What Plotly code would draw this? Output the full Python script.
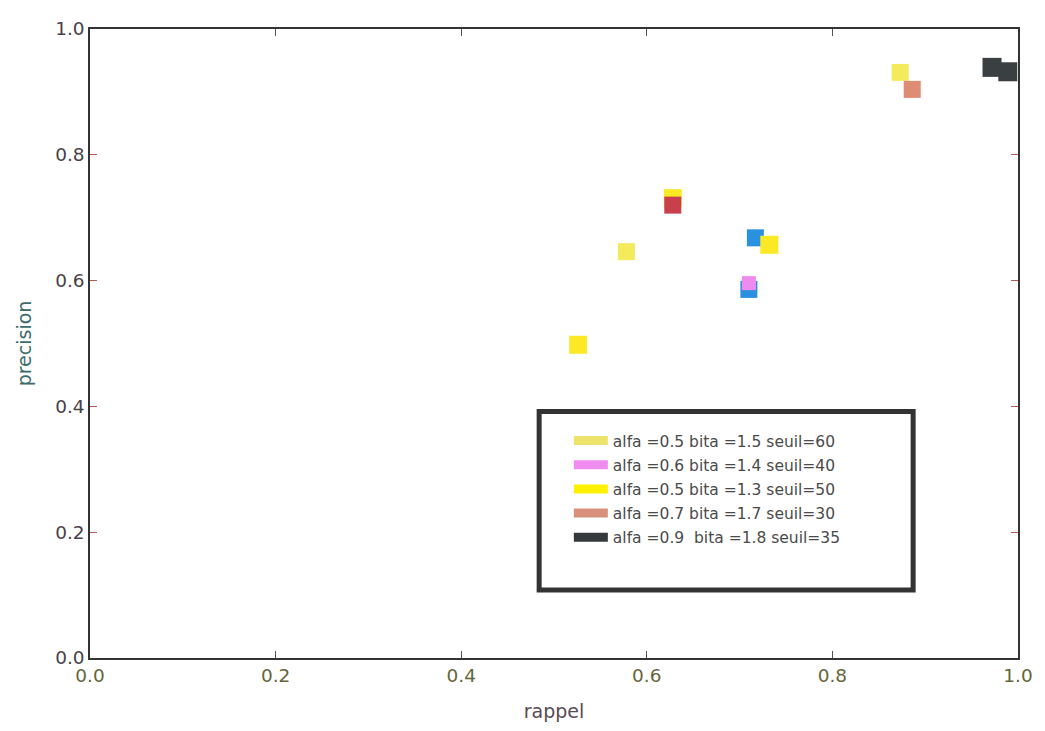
import plotly.graph_objects as go

# ---- data ----
legend_labels = [
    "alfa =0.5 bita =1.5 seuil=60",
    "alfa =0.6 bita =1.4 seuil=40",
    "alfa =0.5 bita =1.3 seuil=50",
    "alfa =0.7 bita =1.7 seuil=30",
    "alfa =0.9  bita =1.8 seuil=35",
]
legend_colors = ["#eee36a", "#f08cf0", "#fff000", "#d9907a", "#35393b"]

# points per series (rappel, precision)
s1_rappel = [0.578, 0.873]
s1_precision = [0.646, 0.931]
s2_rappel = [0.710]
s2_precision = [0.596]
s3_rappel = [0.526, 0.628, 0.732]
s3_precision = [0.498, 0.731, 0.657]
s4_rappel = [0.886]
s4_precision = [0.904]
s5_rappel = [0.972, 0.989]
s5_precision = [0.939, 0.932]

# extra marks visible in the print, not in legend
blue_rappel = [0.717, 0.710]
blue_precision = [0.668, 0.586]
red_rappel = [0.628]
red_precision = [0.720]

x_ticks = [0.0, 0.2, 0.4, 0.6, 0.8, 1.0]
y_ticks = [0.0, 0.2, 0.4, 0.6, 0.8, 1.0]

marker_colors = {
    "s1": "#f3ea5c", "s2": "#ef8bef", "s3": "#fbe925", "s4": "#de8c74",
    "s5": "#3a3f42", "blue": "#2a90e0", "red": "#c9404c",
}

fig = go.Figure()

def pts(x, y, color, size=17):
    fig.add_trace(go.Scatter(
        x=x, y=y, mode="markers", showlegend=False, hoverinfo="skip",
        cliponaxis=False,
        marker=dict(symbol="square", size=size, color=color, line=dict(width=0)),
    ))

# draw order chosen so overlaps look as in the print
pts(blue_rappel, blue_precision, marker_colors["blue"])
pts(s1_rappel, s1_precision, marker_colors["s1"])
pts(s3_rappel, s3_precision, marker_colors["s3"], size=18)
pts(red_rappel, red_precision, marker_colors["red"])
pts(s2_rappel, s2_precision, marker_colors["s2"], size=14)
pts(s4_rappel, s4_precision, marker_colors["s4"])
pts(s5_rappel, s5_precision, marker_colors["s5"], size=19)

# legend entries (patches)
for i, (lab, col) in enumerate(zip(legend_labels, legend_colors)):
    fig.add_trace(go.Scatter(
        x=[None], y=[None], mode="lines", name=lab, legendgroup=f"g{i}",
        line=dict(color=col, width=9),
    ))

font_family = "DejaVu Sans, Liberation Sans, sans-serif"

fig.update_layout(
    width=1045, height=731,
    margin=dict(l=90, r=25, t=29, b=67),
    paper_bgcolor="white", plot_bgcolor="white",
    font=dict(family=font_family, size=18, color="#444"),
    showlegend=True,
    legend=dict(
        x=0.516, y=0.372, xanchor="left", yanchor="top",
        bgcolor="rgba(0,0,0,0)", borderwidth=0,
        font=dict(size=15.5, color="#4a4a4a", family=font_family),
        tracegroupgap=1, itemwidth=34,
    ),
    xaxis=dict(
        range=[0, 1], tickvals=x_ticks, ticktext=[f"{v:.1f}" for v in x_ticks],
        showgrid=False, zeroline=False, showline=True, linecolor="#333",
        linewidth=1.5, mirror="ticks", ticks="inside", ticklen=7,
        tickcolor="#555", tickfont=dict(size=18.5, color="#66663a"),
        title=dict(text="rappel", font=dict(size=19, color="#5a4a55"), standoff=20),
    ),
    yaxis=dict(
        range=[0, 1], tickvals=y_ticks, ticktext=[f"{v:.1f}" for v in y_ticks],
        showgrid=False, zeroline=False, showline=True, linecolor="#333",
        linewidth=1.5, mirror="ticks", ticks="inside", ticklen=7,
        tickcolor="#b55", tickfont=dict(size=18.5, color="#4a3f4a"),
        title=dict(text="precision", font=dict(size=19, color="#3d6a6a"), standoff=18),
    ),
    shapes=[dict(
        type="rect", xref="paper", yref="paper",
        x0=0.484, x1=0.887, y0=0.108, y1=0.392,
        line=dict(color="#333", width=5), fillcolor="rgba(0,0,0,0)", layer="above",
    )],
)

fig.write_html("out.html")
